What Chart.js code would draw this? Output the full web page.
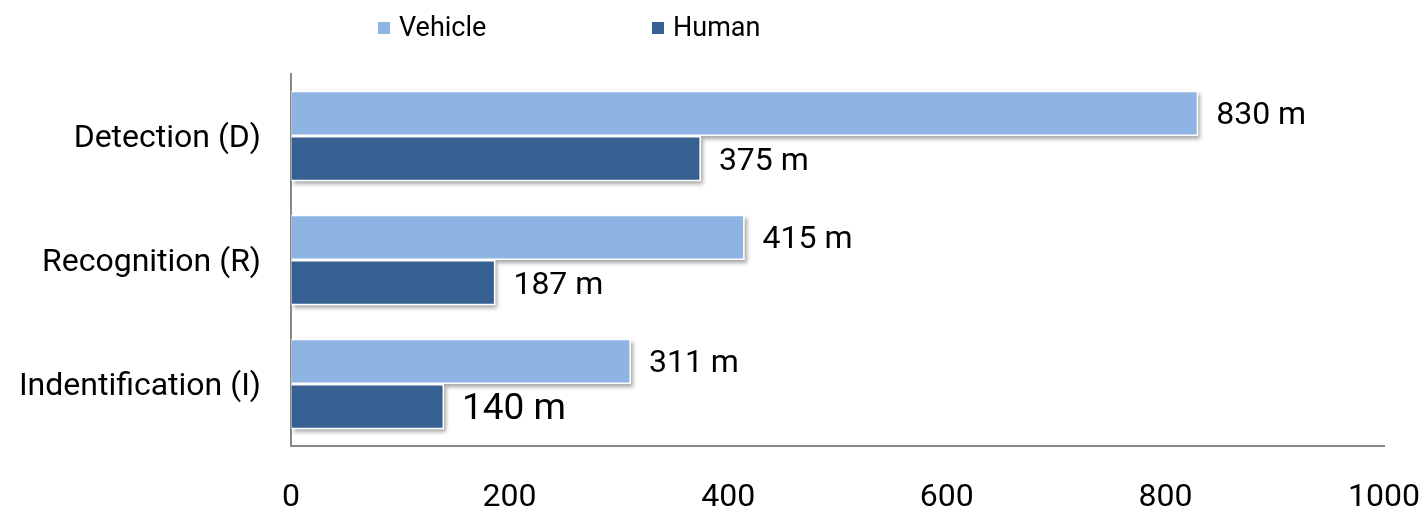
<!DOCTYPE html>
<html>
<head>
<meta charset="utf-8">
<script src="https://cdn.jsdelivr.net/npm/chart.js@4"></script>
<style>
  html, body { margin: 0; padding: 0; background: #fff; }
  #wrap { width: 1427px; height: 508px; }
</style>
</head>
<body>
<div id="wrap"><canvas id="rangeChart" width="1427" height="508"></canvas></div>
<script>
// data
const categories = ['Detection (D)', 'Recognition (R)', 'Indentification (I)'];
const vehicleRange = [830, 415, 311];
const humanRange = [375, 187, 140];
const seriesNames = ['Vehicle', 'Human'];
const xTicks = [0, 200, 400, 600, 800, 1000];

const vehicleColor = '#8EB4E3';
const humanColor = '#366092';
const fontFamily = 'Roboto, "Liberation Sans", sans-serif';

// the "140 m" label is set a bit bigger in the original
const bigLabel = { dataset: 1, index: 2 };

// soft drop shadow behind each bar
const barShadow = {
  id: 'barShadow',
  beforeDatasetsDraw(chart) {
    const ctx = chart.ctx;
    ctx.save();
    ctx.shadowColor = 'rgba(0,0,0,0.35)';
    ctx.shadowBlur = 4;
    ctx.shadowOffsetX = 2;
    ctx.shadowOffsetY = 3;
    ctx.fillStyle = '#fff';
    chart.data.datasets.forEach((ds, i) => {
      chart.getDatasetMeta(i).data.forEach(bar => {
        const p = bar.getProps(['x', 'y', 'base', 'height'], true);
        ctx.fillRect(p.base, p.y - p.height / 2, p.x - p.base, p.height);
      });
    });
    ctx.restore();
  }
};

// "830 m" style labels after each bar
const valueLabels = {
  id: 'valueLabels',
  afterDatasetsDraw(chart) {
    const ctx = chart.ctx;
    ctx.save();
    ctx.fillStyle = '#000';
    ctx.textAlign = 'left';
    ctx.textBaseline = 'middle';
    chart.data.datasets.forEach((ds, i) => {
      chart.getDatasetMeta(i).data.forEach((bar, j) => {
        const big = i === bigLabel.dataset && j === bigLabel.index;
        ctx.font = (big ? 37 : 32) + 'px ' + fontFamily;
        ctx.fillText(ds.data[j] + ' m', bar.x + 18, bar.y + 3);
      });
    });
    ctx.restore();
  }
};

// legend sits left of centre in the original, so draw it by hand
const topLegend = {
  id: 'topLegend',
  afterDraw(chart) {
    const ctx = chart.ctx;
    const spots = [378, 652];
    ctx.save();
    ctx.font = '27px ' + fontFamily;
    ctx.textBaseline = 'middle';
    chart.data.datasets.forEach((ds, i) => {
      ctx.fillStyle = ds.backgroundColor;
      ctx.fillRect(spots[i], 22, 12, 12);
      ctx.fillStyle = '#000';
      ctx.fillText(ds.label, spots[i] + 21, 29);
    });
    ctx.restore();
  }
};

const ctx = document.getElementById('rangeChart').getContext('2d');
new Chart(ctx, {
  type: 'bar',
  data: {
    labels: categories,
    datasets: [
      {
        label: seriesNames[0],
        data: vehicleRange,
        backgroundColor: vehicleColor,
        borderColor: '#fff',
        borderWidth: 1.5,
        categoryPercentage: 0.73,
        barPercentage: 1
      },
      {
        label: seriesNames[1],
        data: humanRange,
        backgroundColor: humanColor,
        borderColor: '#fff',
        borderWidth: 1.5,
        categoryPercentage: 0.73,
        barPercentage: 1
      }
    ]
  },
  options: {
    indexAxis: 'y',
    responsive: false,
    animation: false,
    layout: { padding: { top: 74, right: 43, left: 0, bottom: 0 } },
    plugins: {
      legend: { display: false },
      tooltip: { enabled: false }
    },
    scales: {
      x: {
        min: 0,
        max: 1000,
        afterBuildTicks: axis => { axis.ticks = xTicks.map(v => ({ value: v })); },
        afterFit: axis => {
          axis.height = 62;
          axis.paddingLeft = 0;
          axis.paddingRight = 0;
        },
        grid: { color: 'transparent', drawTicks: false },
        border: { display: true, color: '#888888', width: 2 },
        ticks: {
          padding: 33,
          color: '#000',
          font: { family: fontFamily, size: 32 },
          callback: v => String(v)
        }
      },
      y: {
        afterFit: axis => { axis.width = 291; },
        grid: { color: 'transparent', drawTicks: false },
        border: { display: true, color: '#888888', width: 2 },
        ticks: {
          padding: 30,
          labelOffset: 3,
          color: '#000',
          font: { family: fontFamily, size: 32 }
        }
      }
    }
  },
  plugins: [barShadow, valueLabels, topLegend]
});
</script>
</body>
</html>
